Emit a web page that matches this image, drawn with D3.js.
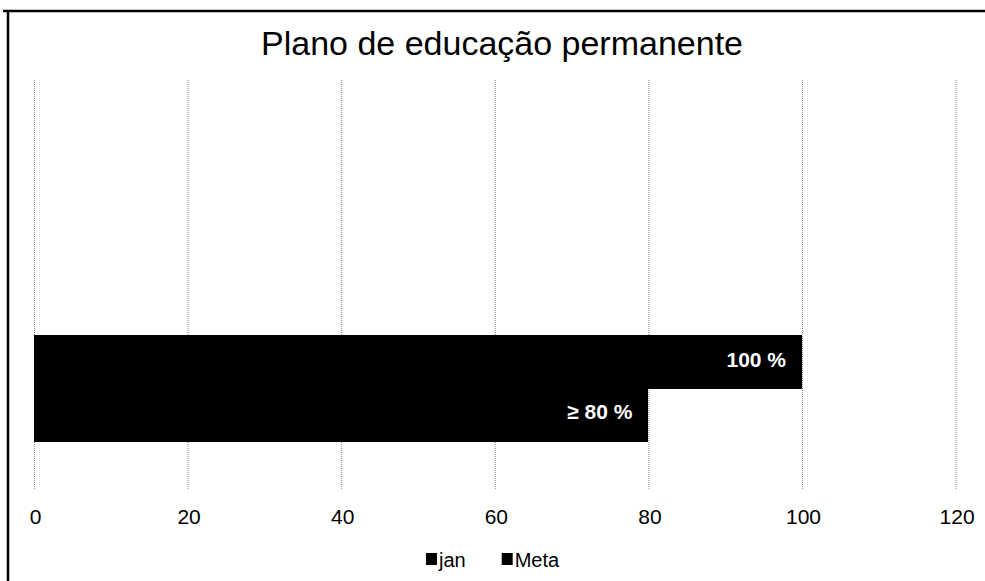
<!DOCTYPE html>
<html>
<head>
<meta charset="utf-8">
<script src="https://cdn.jsdelivr.net/npm/d3@7"></script>
<style>
  html, body { margin: 0; background: #fff; overflow: hidden; }
  svg { display: block; }
  text { font-family: "Liberation Sans", Arial, sans-serif; }
</style>
</head>
<body>
<div id="chart"></div>
<script>
var w = 985, h = 581;

// data
var categories = ["", "Plano"];
var series = ["jan", "Meta"];
var janValues = [null, 100];
var metaValues = [null, 80];
var valueLabels = { jan: "100 %", Meta: "\u2265 80 %" };
var xTicks = [0, 20, 40, 60, 80, 100, 120];

var svg = d3.select("#chart").append("svg")
    .attr("width", w)
    .attr("height", h);

// outer frame: only the top and left edges are in the picture
svg.append("line")
    .attr("x1", 3).attr("y1", 11)
    .attr("x2", w).attr("y2", 11)
    .attr("stroke", "#000")
    .attr("stroke-width", 2.5);
svg.append("line")
    .attr("x1", 8).attr("y1", 10)
    .attr("x2", 8).attr("y2", h)
    .attr("stroke", "#000")
    .attr("stroke-width", 2.5);

// title
svg.append("text")
    .attr("x", 502).attr("y", 55)
    .attr("text-anchor", "middle")
    .style("font-size", "34px")
    .text("Plano de educação permanente");

var xScale = d3.scaleLinear()
    .domain([0, 120])
    .range([34, 955.6]);

var yScale = d3.scaleBand()
    .domain(categories)
    .range([80, 490]);

var ySub = d3.scaleBand()
    .domain(series)
    .range([0, yScale.bandwidth()])
    .paddingOuter(0.95);

//GRID
var gridlines = d3.axisTop()
    .scale(xScale)
    .tickValues(xTicks)
    .tickFormat("")
    .tickSize(-(490 - 80));

svg.append("g")
    .attr("class", "grid")
    .attr("transform", "translate(0,80)")
    .call(gridlines)
    .call(function (g) { g.select(".domain").remove(); })
    .selectAll("line")
    .attr("stroke", "#8a8a8a")
    .attr("stroke-width", 1)
    .attr("stroke-dasharray", "1,1");

//BARS
var rows = [];
categories.forEach(function (c, i) {
    if (janValues[i] != null) rows.push({ cat: c, s: "jan", v: janValues[i] });
    if (metaValues[i] != null) rows.push({ cat: c, s: "Meta", v: metaValues[i] });
});

svg.append("g").selectAll("rect")
    .data(rows)
    .enter().append("rect")
    .attr("x", xScale(0))
    .attr("y", function (d) { return Math.round(yScale(d.cat) + ySub(d.s)); })
    .attr("width", function (d) { return xScale(d.v) - xScale(0); })
    .attr("height", Math.round(ySub.bandwidth()) + 1)
    .attr("shape-rendering", "crispEdges")
    .attr("fill", "#000");

svg.append("g").selectAll("text")
    .data(rows)
    .enter().append("text")
    .attr("x", function (d) { return xScale(d.v) - 16; })
    .attr("y", function (d) { return yScale(d.cat) + ySub(d.s) + ySub.bandwidth() / 2 - 2; })
    .attr("dy", "0.35em")
    .attr("text-anchor", "end")
    .attr("fill", "#fff")
    .style("font-size", "21px")
    .style("font-weight", "bold")
    .text(function (d) { return valueLabels[d.s]; });

//AXIS
var xAxis = d3.axisBottom(xScale)
    .tickValues(xTicks)
    .tickSize(0)
    .tickPadding(0);

svg.append("g")
    .attr("transform", "translate(1,509)")
    .call(xAxis)
    .call(function (g) { g.select(".domain").remove(); })
    .selectAll("text")
    .attr("dy", "0.71em")
    .attr("fill", "#000")
    .style("font-size", "21px")
    .style("font-family", "'Liberation Sans', Arial, sans-serif");

//LEGEND
var legend = svg.append("g").attr("transform", "translate(426,567)");
var lx = 0;
series.forEach(function (s) {
    legend.append("rect")
        .attr("x", lx).attr("y", -14)
        .attr("width", 11).attr("height", 12)
        .attr("fill", "#000");
    var t = legend.append("text")
        .attr("x", lx + 13).attr("y", 0)
        .style("font-size", "20px")
        .text(s);
    lx += 13 + t.node().getComputedTextLength() + 36;
});
</script>
</body>
</html>
